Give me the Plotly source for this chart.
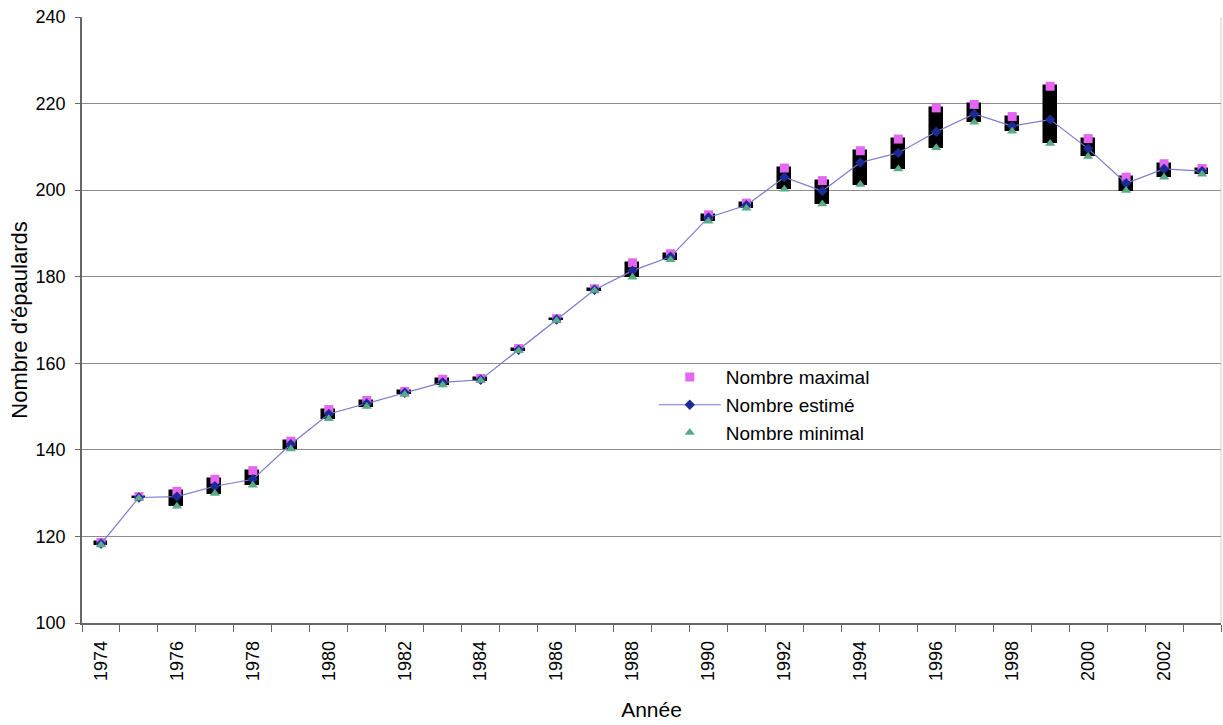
import plotly.graph_objects as go

years = list(range(1974, 2004))
estime = [118.3, 129.0, 129.2, 131.6, 133.2, 141.3, 148.3, 150.7, 153.2, 155.6,
          156.2, 163.1, 170.1, 177.0, 181.4, 184.6, 193.7, 196.5, 203.0, 199.8,
          206.4, 208.6, 213.5, 217.6, 214.8, 216.3, 209.6, 201.6, 204.9, 204.4]
maximal = [118.6, 129.2, 130.4, 133.2, 135.2, 142.0, 149.3, 151.4, 153.5, 156.3,
           156.5, 163.4, 170.3, 177.2, 183.2, 185.3, 194.3, 197.0, 205.1, 202.2,
           209.1, 211.8, 219.0, 219.8, 217.0, 224.0, 211.9, 203.0, 206.1, 205.0]
minimal = [118.0, 128.8, 127.0, 129.9, 131.8, 140.2, 147.2, 150.0, 152.8, 155.0,
           156.0, 162.9, 169.9, 176.8, 179.9, 183.9, 192.8, 195.8, 200.2, 196.8,
           201.3, 204.9, 209.8, 215.7, 213.6, 210.8, 207.8, 199.9, 203.0, 203.7]
label_years = list(range(1974, 2004, 2))

FONT = "Liberation Sans, Arial, sans-serif"

fig = go.Figure()

# high-low (up/down) bars
fig.add_trace(go.Bar(
    x=years, y=[a - b for a, b in zip(maximal, minimal)], base=minimal,
    width=0.34, marker=dict(color="black", line=dict(color="black", width=1.5)),
    showlegend=False, hoverinfo="skip"))

fig.add_trace(go.Scatter(
    x=years, y=maximal, mode="markers", name="Nombre maximal",
    marker=dict(symbol="square", size=9, color="#e466f2")))
fig.add_trace(go.Scatter(
    x=years, y=estime, mode="lines+markers", name="Nombre estimé",
    line=dict(color="#7a7acc", width=1.2),
    marker=dict(symbol="diamond", size=8, color="#1c2a96")))
fig.add_trace(go.Scatter(
    x=years, y=minimal, mode="markers", name="Nombre minimal",
    marker=dict(symbol="triangle-up", size=9, color="#5aac88")))

fig.update_layout(
    width=1223, height=725,
    margin=dict(l=82, r=2, t=17, b=102),
    paper_bgcolor="white", plot_bgcolor="white",
    font=dict(family=FONT, color="black", size=18),
    bargap=0,
    legend=dict(x=0.502, y=0.437, xanchor="left", yanchor="top",
                bgcolor="rgba(255,255,255,0)", font=dict(size=19),
                tracegroupgap=0, itemwidth=62),
    xaxis=dict(
        range=[1973.5, 2003.5], tickmode="array", tickvals=label_years,
        ticktext=[str(y) for y in label_years], tickangle=-90,
        ticks="outside", ticklen=9, tickcolor="rgba(0,0,0,0)",
        tickfont=dict(size=18), automargin=False,
        minor=dict(tick0=1973.5, dtick=1, ticks="outside", ticklen=7,
                   tickcolor="#666666", tickwidth=1.3, showgrid=False),
        showgrid=False, showline=True, linecolor="#666666", linewidth=1.5,
        zeroline=False,
        title=dict(text="Année", font=dict(size=21), standoff=22),
    ),
    yaxis=dict(
        range=[100, 240], dtick=20, tick0=100,
        ticks="outside", ticklen=5, tickcolor="#666666", tickwidth=1.3,
        tickfont=dict(size=18), ticklabelstandoff=6, automargin=False,
        showgrid=True, gridcolor="#8c8c8c", gridwidth=1.4,
        showline=True, linecolor="#666666", linewidth=1.5,
        zeroline=False,
        title=dict(text="Nombre d'épaulards", font=dict(size=22), standoff=2),
    ),
)

fig.add_shape(type="line", xref="paper", yref="paper", x0=1, x1=1, y0=0, y1=1,
              line=dict(color="#d0d0d0", width=1))

fig.write_html("out.html", config={"displayModeBar": False},
               post_script="document.body.style.margin='0';")
